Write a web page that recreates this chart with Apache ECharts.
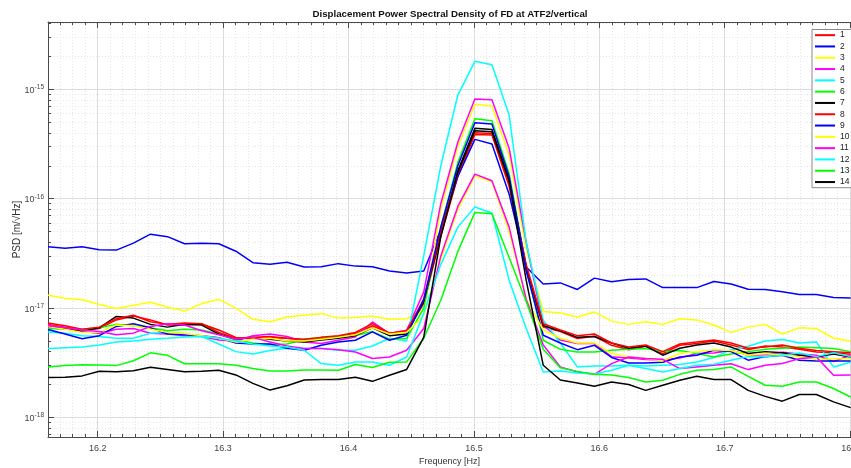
<!DOCTYPE html>
<html><head><meta charset="utf-8">
<script src="https://cdn.jsdelivr.net/npm/echarts@6/dist/echarts.min.js"></script>
<style>html,body{margin:0;padding:0;background:#fff;}#c{width:851px;height:468px;}</style>
</head><body><div id="c"></div>
<script>
// Frequency bins [Hz]
const freq = [16.1604, 16.1740, 16.1876, 16.2013, 16.2149, 16.2285, 16.2421, 16.2557, 16.2693, 16.2830,
  16.2966, 16.3102, 16.3238, 16.3374, 16.3510, 16.3647, 16.3783, 16.3919, 16.4055, 16.4191,
  16.4327, 16.4464, 16.4600, 16.4736, 16.4872, 16.5008, 16.5144, 16.5281, 16.5417, 16.5553,
  16.5689, 16.5825, 16.5961, 16.6098, 16.6234, 16.6370, 16.6506, 16.6642, 16.6778, 16.6914,
  16.7051, 16.7187, 16.7323, 16.7459, 16.7595, 16.7731, 16.7868, 16.8004];

// PSD values, in units of 1e-18 m/sqrt(Hz)
const s1 = [7.1,6.7,6.35,6.5,7.8,8.45,7.8,7.0,7.0,7.15,6.3,5.4,5.2,5.38,5.3,5.1,5.27,5.5,5.85,6.9,5.9,6.1,11,45,160,387,382,130,22,6.7,6.1,5.27,5.53,4.57,4.17,4.48,3.84,4.57,4.74,5.01,4.6,4.17,4.5,4.42,4.2,3.97,3.9,3.79];
const s2 = [36.3,35.3,36.4,34.2,33.9,39.3,47.4,45,38.8,39.2,38.8,33.1,26,25.2,26.3,23.8,23.9,25.5,24.2,23.9,21.8,20.9,21.8,52,160,349,316,110,23.8,16.6,17.0,14.8,18.8,17.4,18.3,18.5,15.4,15.4,15.4,17.5,16.6,14.9,14.8,14.1,13.3,13.3,12.5,12.4];
const s3 = [13.1,12.3,11.9,10.8,9.9,10.6,11.3,10.2,9.4,11.0,12.0,10.0,7.9,7.5,8.3,8.6,8.9,8.1,8.2,8.45,7.9,8.0,9.5,80,300,729,703,250,35,9.3,9.0,8.3,9.2,7.6,7.1,7.5,7.1,8.0,7.8,7.0,6.0,6.7,7.1,5.8,6.6,6.5,5.3,5.0];
const s4 = [7.0,6.5,6.1,5.9,6.4,6.5,5.9,5.8,5.6,5.5,5.1,5.0,5.6,5.8,5.5,4.9,4.74,5.08,5.45,7.47,5.85,6.27,14,90,330,815,803,290,40,7.0,5.1,4.74,4.74,3.6,3.5,3.39,3.35,3.5,3.84,3.89,4.1,3.7,3.75,3.95,3.8,3.7,3.25,3.7];
const s5 = [6.06,5.9,5.6,5.5,5.3,5.3,5.9,6.0,5.85,5.5,4.7,4.0,3.8,4.1,4.3,4.27,4.27,4.12,4.12,4.5,5.3,5.0,30,200,887,1804,1680,582,40,7.75,4.8,2.9,2.95,2.95,3.0,2.95,3.0,3.05,3.22,3.54,4.17,4.48,5.01,5.16,4.8,4.91,2.9,3.2];
const s6 = [6.5,6.4,6.4,6.6,7.1,6.9,6.6,6.2,6.4,6.3,5.8,5.1,4.8,4.65,4.7,5.2,5.4,5.5,5.6,6.1,5.2,5.3,10,55,215,538,516,170,24,5.08,4.2,3.97,3.97,4.12,4.2,4.27,4.0,4.1,3.84,3.57,3.8,4.0,4.2,4.3,4.42,4.35,4.27,4.0];
const s7 = [6.8,6.5,6.1,6.6,8.4,8.1,7.1,6.7,7.1,7.0,5.8,5.2,5.4,5.2,5.0,4.9,5.1,5.3,5.6,6.6,5.6,5.8,11.5,48,180,440,430,150,24,6.9,6.2,5.4,5.5,4.8,4.3,4.5,3.71,4.3,4.6,4.8,4.4,3.84,4.0,3.9,3.7,3.57,3.8,3.57];
const s8 = [7.3,6.9,6.4,6.7,8.0,8.6,7.5,7.1,7.3,7.2,6.0,5.3,5.4,5.5,5.3,5.2,5.4,5.6,6.0,7.2,5.9,6.2,12,50,170,400,395,140,25,7.2,6.3,5.6,5.8,4.8,4.4,4.6,4.0,4.7,4.9,5.1,4.8,4.3,4.4,4.6,4.3,4.1,4.0,3.9];
const s9 = [6.36,5.8,5.25,5.6,6.8,7.2,6.6,5.8,5.7,5.6,5.35,4.8,4.7,4.7,4.3,4.12,4.58,4.91,5.08,6.06,5.08,5.65,12,55,200,495,481,160,22,5.65,4.8,4.17,4.57,3.54,3.15,3.15,3.2,3.57,3.7,4.12,4.0,3.34,3.6,3.7,3.34,3.28,3.28,3.28];
const s10 = [6.8,6.4,6.0,6.0,7.0,6.9,6.4,6.0,5.85,5.6,5.3,4.9,5.2,5.3,5.0,5.0,5.2,5.4,5.7,6.6,5.8,6.0,8.5,28,80,162,143,50,12,6.3,5.3,4.8,4.8,3.84,3.6,3.46,3.3,3.84,4.0,4.17,4.1,3.7,3.84,3.7,3.6,3.39,3.45,3.45];
const s11 = [6.9,6.6,6.3,6.1,5.7,5.9,6.8,7.2,7.0,6.2,5.7,5.2,5.4,4.9,4.5,4.27,4.27,4.17,3.97,3.46,3.57,4.12,6.5,30,85,168,146,55,12,4.6,2.9,2.6,2.48,3.11,3.57,3.46,3.4,2.8,2.9,3.0,3.1,2.74,3.0,3.11,3.45,3.57,2.43,2.45];
const s12 = [4.27,4.35,4.42,4.6,4.9,5.0,5.2,5.3,5.45,5.5,5.3,5.0,4.7,4.5,4.4,4.12,3.11,3.0,3.22,3.22,3.0,3.57,9,25,55,84,74,18,6.5,2.6,2.66,2.55,2.5,2.7,3.0,2.8,2.6,2.8,3.0,3.07,3.34,3.6,3.6,3.7,3.89,3.6,3.9,3.6];
const s13 = [2.9,2.98,3.03,3.02,2.98,3.3,3.9,3.7,3.1,3.1,3.1,3.0,2.8,2.66,2.66,2.72,2.72,2.7,3.05,2.86,3.2,3.22,5.3,11.8,33,75,73,29,11.5,4.2,2.85,2.64,2.48,2.44,2.32,2.11,2.19,2.48,2.70,2.74,2.9,2.38,1.97,1.93,2.11,2.11,1.84,1.54];
const s14 = [2.32,2.33,2.40,2.65,2.62,2.68,2.88,2.75,2.62,2.65,2.70,2.45,2.05,1.78,1.95,2.2,2.22,2.23,2.33,2.14,2.43,2.75,5.4,45,175,418,409,145,18,3.0,2.2,2.07,1.93,2.11,2.0,1.77,1.97,2.19,2.38,2.22,2.22,1.77,1.56,1.41,1.62,1.62,1.39,1.23];

const seriesNames = ['1','2','3','4','5','6','7','8','9','10','11','12','13','14'];
const seriesValues = [s1,s2,s3,s4,s5,s6,s7,s8,s9,s10,s11,s12,s13,s14];
const seriesColors = ['#ff0000','#0000ff','#ffff00','#ff00ff','#00ffff','#00ff00','#000000',
                      '#ff0000','#0000ff','#ffff00','#ff00ff','#00ffff','#00ff00','#000000'];

// Axis ticks
const xTicks = [16.2, 16.3, 16.4, 16.5, 16.6, 16.7, 16.8];
const yTicks = [1, 10, 100, 1000];          // in 1e-18 units
const yTickExp = [-18, -17, -16, -15];
const xRange = [16.1604, 16.8007];
const yRange = [0.663, 4128];

const xMinor = [];
for (let i = 1617; i <= 1680; i++) { if (i % 10 !== 0) xMinor.push(i / 100); }
const yMinor = [];
[0.1, 1, 10, 100, 1000].forEach(d => { for (let m = 2; m <= 9; m++) { const v = +(m * d).toPrecision(3); if (v > yRange[0] && v < yRange[1]) yMinor.push(v); } });

const FONT = 'Liberation Sans, Arial, Helvetica, sans-serif';
const axisCol = '#4a4a4a';
const majorGrid = '#dcdcdc';
const minorGrid = '#e6e6e6';

const baseX = { type: 'value', min: xRange[0], max: xRange[1], gridIndex: 0 };
const baseY = { type: 'log', logBase: 10, min: yRange[0], max: yRange[1], gridIndex: 0 };

const option = {
  animation: false,
  backgroundColor: '#ffffff',
  textStyle: { fontFamily: FONT },
  title: {
    text: 'Displacement Power Spectral Density of FD at ATF2/vertical',
    left: 450, top: 9, textAlign: 'center', padding: 0,
    textStyle: { fontSize: 9.7, fontWeight: 'bold', color: '#111', fontFamily: FONT }
  },
  grid: { left: 48, top: 22, right: 0, bottom: 31, containLabel: false, outerBoundsMode: 'none' },
  legend: {
    orient: 'vertical', left: 812, top: 29.5,
    padding: [0, 2, 0, 3], itemGap: 0, itemWidth: 20, itemHeight: 2, icon: 'rect',
    borderColor: '#8a8a8a', borderWidth: 1, backgroundColor: '#ffffff',
    textStyle: { fontSize: 8.5, lineHeight: 11.3, color: '#222', fontFamily: FONT },
    data: seriesNames
  },
  xAxis: [
    Object.assign({}, baseX, {
      position: 'bottom',
      name: 'Frequency [Hz]', nameLocation: 'middle', nameGap: 20, nameMoveOverlap: false,
      nameTextStyle: { fontSize: 9, color: '#333', fontFamily: FONT },
      axisLine: { show: true, onZero: false, lineStyle: { color: axisCol, width: 1 } },
      axisTick: { show: true, inside: true, length: 6, customValues: xTicks, lineStyle: { color: axisCol } },
      axisLabel: { show: true, customValues: xTicks, margin: 7, fontSize: 9, color: '#444', fontFamily: FONT,
                   formatter: v => Number(v).toFixed(1) },
      splitLine: { show: true, lineStyle: { color: majorGrid, width: 1 } }
    }),
    Object.assign({}, baseX, {
      position: 'bottom',
      axisLine: { show: false, onZero: false },
      axisTick: { show: true, inside: true, length: 3, customValues: xMinor, lineStyle: { color: axisCol } },
      axisLabel: { show: false },
      splitLine: { show: true, lineStyle: { color: minorGrid, width: 1, type: [1, 2] } }
    }),
    Object.assign({}, baseX, {
      position: 'top',
      axisLine: { show: true, onZero: false, lineStyle: { color: axisCol, width: 1 } },
      axisTick: { show: true, inside: true, length: 6, customValues: xTicks, lineStyle: { color: axisCol } },
      axisLabel: { show: false },
      splitLine: { show: false }
    }),
    Object.assign({}, baseX, {
      position: 'top',
      axisLine: { show: false, onZero: false },
      axisTick: { show: true, inside: true, length: 3, customValues: xMinor, lineStyle: { color: axisCol } },
      axisLabel: { show: false },
      splitLine: { show: false }
    })
  ],
  yAxis: [
    Object.assign({}, baseY, {
      position: 'left',
      name: 'PSD [m/\u221AHz]', nameLocation: 'middle', nameGap: 26, nameMoveOverlap: false,
      nameTextStyle: { fontSize: 10, color: '#333', fontFamily: FONT },
      axisLine: { show: true, onZero: false, lineStyle: { color: axisCol, width: 1 } },
      axisTick: { show: true, inside: true, length: 6, customValues: yTicks, lineStyle: { color: axisCol } },
      axisLabel: {
        show: true, customValues: yTicks, margin: 4,
        formatter: v => {
          let idx = yTicks.findIndex(t => Math.abs(Math.log10(t) - Math.log10(v)) < 1e-6);
          const e = idx >= 0 ? yTickExp[idx] : Math.round(Math.log10(v)) - 18;
          return '{b|10}{s|' + e + '}';
        },
        rich: {
          b: { fontSize: 9, color: '#444', lineHeight: 11, verticalAlign: 'bottom', fontFamily: FONT },
          s: { fontSize: 6.5, color: '#444', lineHeight: 11, verticalAlign: 'top', fontFamily: FONT }
        }
      },
      splitLine: { show: true, lineStyle: { color: majorGrid, width: 1 } }
    }),
    Object.assign({}, baseY, {
      position: 'left',
      axisLine: { show: false, onZero: false },
      axisTick: { show: true, inside: true, length: 3, customValues: yMinor, lineStyle: { color: axisCol } },
      axisLabel: { show: false },
      splitLine: { show: true, lineStyle: { color: minorGrid, width: 1, type: [1, 2] } }
    })
  ],
  series: seriesNames.map((n, i) => ({
    name: n, type: 'line', xAxisIndex: 0, yAxisIndex: 0,
    data: freq.map((f, j) => [f, seriesValues[i][j]]),
    symbol: 'none', showSymbol: false, smooth: false,
    lineStyle: { width: 1.5, color: seriesColors[i] },
    itemStyle: { color: seriesColors[i] },
    emphasis: { disabled: true }
  }))
};

const chart = echarts.init(document.getElementById('c'), null, { renderer: 'canvas' });
chart.setOption(option);
</script>
</body></html>
